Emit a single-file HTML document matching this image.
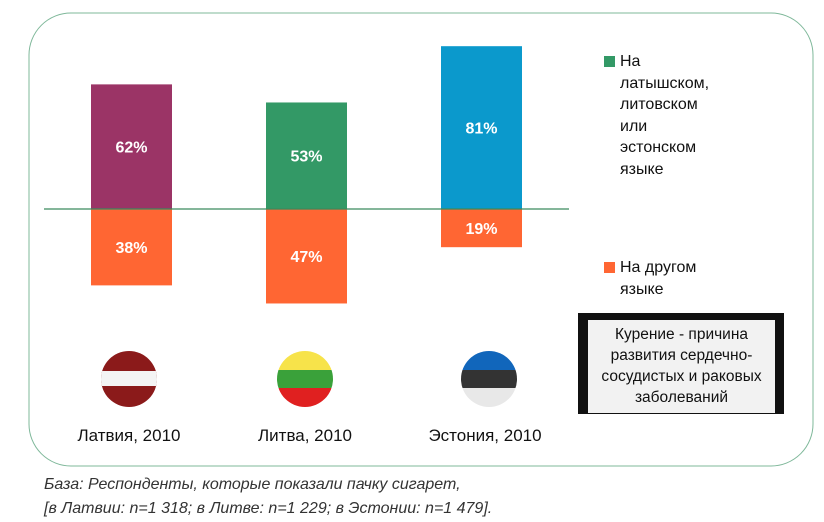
<!DOCTYPE html>
<html><head><meta charset="utf-8"><style>
body{margin:0;background:#fff;font-family:"Liberation Sans",sans-serif;}
#wrap{position:relative;width:824px;height:522px;overflow:hidden;}
.t{position:absolute;color:#111;}
</style></head><body><div id="wrap">
<svg width="824" height="522" style="position:absolute;left:0;top:0" id="svg">
<rect x="29" y="13" width="784" height="453" rx="42" fill="none" stroke="#7fb89a" stroke-width="1"/>
<g id="bars"></g>
<line x1="44" y1="209" x2="569" y2="209" stroke="#3a8a5e" stroke-width="1.2"/>
<rect x="604" y="56" width="11" height="11" fill="#339966"/>
<rect x="604" y="262" width="11" height="11" fill="#ff6633"/>
<rect x="578" y="313" width="206" height="101" fill="#111"/>
<rect x="588" y="320" width="187" height="93" fill="#f2f2f2"/>
<defs><clipPath id="c1"><circle cx="129" cy="379" r="28"/></clipPath><clipPath id="c2"><circle cx="305" cy="379" r="28"/></clipPath><clipPath id="c3"><circle cx="489" cy="379" r="28"/></clipPath></defs>
<g clip-path="url(#c1)"><rect x="100" y="350" width="60" height="60" fill="#8b1a1a"/><rect x="100" y="371" width="60" height="15" fill="#f4f4f4"/></g>
<g clip-path="url(#c2)"><rect x="276" y="350" width="60" height="20" fill="#f7e34a"/><rect x="276" y="370" width="60" height="18" fill="#3aa13a"/><rect x="276" y="388" width="60" height="22" fill="#e02020"/></g>
<g clip-path="url(#c3)"><rect x="460" y="350" width="60" height="20" fill="#1166bb"/><rect x="460" y="370" width="60" height="18" fill="#333"/><rect x="460" y="388" width="60" height="22" fill="#e8e8e8"/></g>
</svg>
<div class="t" style="left:620px;top:51px;font-size:16px;line-height:21.5px">На<br>латышском,<br>литовском<br>или<br>эстонском<br>языке</div>
<div class="t" style="left:620px;top:257px;font-size:16px;line-height:21.5px">На другом<br>языке</div>
<div class="t" style="left:588px;top:324px;width:187px;text-align:center;font-size:15.5px;line-height:21px">Курение - причина развития сердечно-сосудистых и раковых заболеваний</div>
<div class="t" style="left:64px;top:426px;width:130px;text-align:center;font-size:17px">Латвия, 2010</div>
<div class="t" style="left:240px;top:426px;width:130px;text-align:center;font-size:17px">Литва, 2010</div>
<div class="t" style="left:405px;top:426px;width:160px;text-align:center;font-size:17px">Эстония, 2010</div>
<div class="t" style="left:44px;top:473px;font-size:16px;font-style:italic;color:#333;line-height:24px">База: Респонденты, которые показали пачку сигарет,<br>[в Латвии: n=1 318; в Литве: n=1 229; в Эстонии: n=1 479].</div>
</div>
<script>
const categories=["Латвия","Литва","Эстония"];
const nativeValues=[62,53,81];
const otherValues=[38,47,19];
const nativeColors=["#9b3466","#339966","#0b99cc"];
const baseY=209, scale=2.01, barW=81, x0=91, step=175;
function xPos(i){return x0+i*step;}
function yLen(v){return v*scale;}
const g=document.getElementById('bars');
const NS="http://www.w3.org/2000/svg";
categories.forEach((c,i)=>{
  const h1=yLen(nativeValues[i]);
  const r1=document.createElementNS(NS,'rect');
  r1.setAttribute('x',xPos(i));r1.setAttribute('y',baseY-h1);r1.setAttribute('width',barW);r1.setAttribute('height',h1);r1.setAttribute('fill',nativeColors[i]);
  
  
  g.appendChild(r1);
  const h2=yLen(otherValues[i]);
  const r2=document.createElementNS(NS,'rect');
  r2.setAttribute('x',xPos(i));r2.setAttribute('y',baseY);r2.setAttribute('width',barW);r2.setAttribute('height',h2);r2.setAttribute('fill','#ff6633');
  
  
  g.appendChild(r2);
  [[nativeValues[i],baseY-h1/2],[otherValues[i],baseY+h2/2]].forEach(([v,y])=>{
    const t=document.createElementNS(NS,'text');
    t.setAttribute('x',xPos(i)+barW/2);t.setAttribute('y',y+6);t.setAttribute('text-anchor','middle');
    t.setAttribute('fill','#fff');t.setAttribute('font-size','16');t.setAttribute('font-weight','bold');t.setAttribute('font-family','Liberation Sans, sans-serif');
    t.textContent=v+'%';
    
    
    g.appendChild(t);
  });
});
</script>
</body></html>
